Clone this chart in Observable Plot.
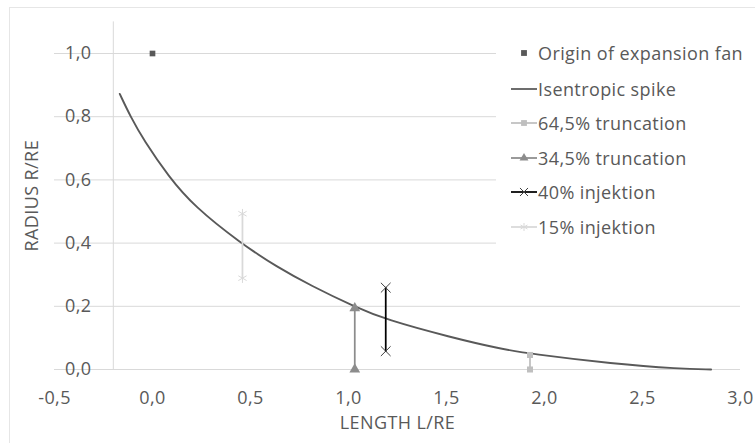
<!DOCTYPE html>
<html><head><meta charset="utf-8">
<script src="https://cdn.jsdelivr.net/npm/d3@7"></script>
<script src="https://cdn.jsdelivr.net/npm/@observablehq/plot@0.6"></script>
<style>
body{margin:0;background:#fff;font-family:"Open Sans",sans-serif;}
#wrap{position:relative;width:755px;height:443px;overflow:hidden;}
#frame{position:absolute;left:9px;top:7px;width:800px;height:500px;border:1px solid #e6e6e6;box-sizing:border-box;pointer-events:none;}
#legend{position:absolute;left:496px;top:36px;width:259px;height:210px;background:#fff;}
.row{position:absolute;left:0;height:24px;display:flex;align-items:center;font-size:18px;letter-spacing:0.4px;color:#595959;white-space:nowrap;}
.row svg{margin-left:15px;margin-right:1px;}
</style></head><body><div id="wrap"><div id="frame"></div></div>
<script>
// Isentropic spike contour
const spikeX = [-0.167, -0.112, -0.044, 0.083, 0.211, 0.449, 0.636, 0.806, 1.036, 1.19, 1.52, 1.776, 1.926, 2.35, 2.69, 2.85];
const spikeY = [0.872, 0.8, 0.725, 0.61, 0.517, 0.4, 0.324, 0.266, 0.197, 0.158, 0.102, 0.065, 0.05, 0.018, 0.002, 0.0];
// Origin of expansion fan
const originX = [0.0];
const originY = [1.0];
// 64,5% truncation
const t645X = [1.926, 1.926];
const t645Y = [0.046, 0.0];
// 34,5% truncation
const t345X = [1.032, 1.032];
const t345Y = [0.194, 0.0];
// 40% injektion
const inj40X = [1.19, 1.19];
const inj40Y = [0.259, 0.058];
// 15% injektion
const inj15X = [0.459, 0.459];
const inj15Y = [0.493, 0.289];
// ticks
const xTicks = [-0.5, 0.0, 0.5, 1.0, 1.5, 2.0, 2.5, 3.0];
const yTicks = [0.0, 0.2, 0.4, 0.6, 0.8, 1.0];
const xTitle = "LENGTH L/RE";
const yTitle = "RADIUS R/RE";
const seriesNames = ["Origin of expansion fan", "Isentropic spike", "64,5% truncation", "34,5% truncation", "40% injektion", "15% injektion"];

const fmt = d => d3.format(".1f")(d).replace(".", ",").replace("−", "-");
const zip = (xs, ys) => xs.map((x, i) => ({x, y: ys[i]}));
const spike = zip(spikeX, spikeY);
const origin = zip(originX, originY);
const t645 = zip(t645X, t645Y);
const t345 = zip(t345X, t345Y);
const inj40 = zip(inj40X, inj40Y);
const inj15 = zip(inj15X, inj15Y);
const txt = "#595959";

const chart = Plot.plot({
  width: 755, height: 443,
  marginLeft: 54, marginRight: 15, marginTop: 21.4, marginBottom: 74,
  x: {domain: [-0.5, 3.0], axis: null},
  y: {domain: [0, 1.1], axis: null},
  style: {fontFamily: "'Open Sans', sans-serif", background: "transparent", overflow: "visible", letterSpacing: "0.4px"},
  marks: [
    Plot.ruleY(yTicks, {stroke: "#d9d9d9", strokeWidth: 1}),
    Plot.ruleX([-0.2], {y1: 0, y2: 1.1, stroke: "#d9d9d9"}),
    Plot.text(yTicks, {x: -0.5, y: d => d, text: fmt, textAnchor: "end", dx: 37, fill: txt, fontSize: 18}),
    Plot.text(xTicks, {x: d => d, y: 0, dy: 29, text: fmt, fill: txt, fontSize: 18}),
    Plot.text([xTitle], {x: 1.25, y: 0, dy: 54, text: d => d, fill: txt, fontSize: 18}),
    Plot.text([yTitle], {x: -0.5, y: 0.55, dx: -22, rotate: -90, text: d => d, fill: txt, fontSize: 18}),
    Plot.line(spike, {x: "x", y: "y", stroke: "#595959", strokeWidth: 1.9, curve: "basis"}),
    Plot.line(inj15, {x: "x", y: "y", stroke: "#d9d9d9", strokeWidth: 1.75}),
    Plot.dot(inj15, {x: "x", y: "y", symbol: "asterisk", r: 4.5, stroke: "#d9d9d9", strokeWidth: 1}),
    Plot.line(t345, {x: "x", y: "y", stroke: "#8c8c8c", strokeWidth: 1.75}),
    Plot.dot(t345, {x: "x", y: "y", symbol: "triangle", r: 4, fill: "#8c8c8c"}),
    Plot.line(t645, {x: "x", y: "y", stroke: "#bfbfbf", strokeWidth: 1.75}),
    Plot.dot(t645, {x: "x", y: "y", symbol: "square", r: 3.4, fill: "#bfbfbf"}),
    Plot.line(inj40, {x: "x", y: "y", stroke: "#000000", strokeWidth: 1.75}),
    Plot.dot(inj40, {x: "x", y: "y", symbol: "times", r: 4.5, stroke: "#404040", strokeWidth: 1}),
    Plot.dot(origin, {x: "x", y: "y", symbol: "square", r: 3.2, fill: "#595959"})
  ]
});
chart.style.position = "absolute";
chart.style.left = "0px";
chart.style.top = "0px";
const wrap = document.getElementById("wrap");
wrap.appendChild(chart);

// legend
const legend = document.createElement("div");
legend.id = "legend";
wrap.appendChild(legend);
const legendSpec = [
  {name: seriesNames[0], line: null, symbol: d3.symbolSquare, size: 34, fill: "#595959"},
  {name: seriesNames[1], line: "#595959", symbol: null},
  {name: seriesNames[2], line: "#bfbfbf", symbol: d3.symbolSquare, size: 34, fill: "#bfbfbf"},
  {name: seriesNames[3], line: "#8c8c8c", symbol: d3.symbolTriangle, size: 34, fill: "#8c8c8c"},
  {name: seriesNames[4], line: "#000000", symbol: d3.symbolTimes, size: 44, stroke: "#404040"},
  {name: seriesNames[5], line: "#d9d9d9", symbol: d3.symbolAsterisk, size: 44, stroke: "#d9d9d9"}
];
const rowCenters = [53, 88.5, 123, 157.5, 192, 226.5];
legendSpec.forEach((s, i) => {
  const row = d3.select(legend).append("div").attr("class", "row")
    .style("top", (rowCenters[i] - 36 - 12) + "px");
  const svg = row.append("svg").attr("width", 26).attr("height", 16);
  if (s.line) svg.append("line").attr("x1", 0).attr("x2", 26).attr("y1", 8).attr("y2", 8)
    .attr("stroke", s.line).attr("stroke-width", 1.75);
  if (s.symbol) svg.append("path").attr("transform", "translate(13,8)")
    .attr("d", d3.symbol(s.symbol, s.size)())
    .attr("fill", s.fill || "none").attr("stroke", s.stroke || "none").attr("stroke-width", 1);
  row.append("span").text(s.name);
});
</script>
</body></html>
